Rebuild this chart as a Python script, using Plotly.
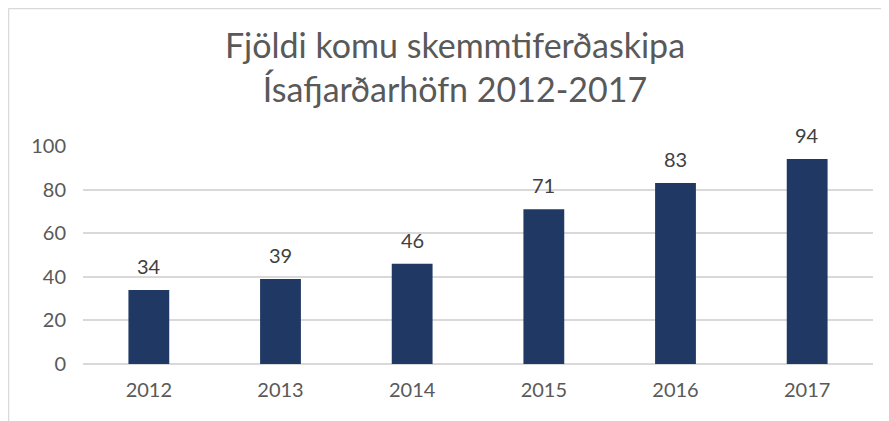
import plotly.graph_objects as go

years = ["2012", "2013", "2014", "2015", "2016", "2017"]
arrivals = [34, 39, 46, 71, 83, 94]
y_ticks = [0, 20, 40, 60, 80, 100]

W, H = 889, 421
L, R, T, B = 75, 24, 138, 65
pw, ph = W - L - R, H - T - B

def px_x(x):
    return (x - L) / pw

def px_y(y):
    return (H - B - y) / ph

fig = go.Figure(go.Bar(
    x=years, y=arrivals,
    marker=dict(color="#203864", line=dict(width=0)),
    width=0.31,
    hoverinfo="x+y",
))

# value labels: x given as category index on the category axis
for i, v in enumerate(arrivals):
    fig.add_annotation(
        x=i, y=v, xref="x", yref="y",
        text=str(v), showarrow=False,
        yanchor="bottom", yshift=10,
        font=dict(size=20, color="#404040", family="Lato"),
    )

fig.update_layout(
    width=W, height=H,
    margin=dict(l=L, r=R, t=T, b=B),
    paper_bgcolor="white", plot_bgcolor="white",
    font=dict(family="Lato", color="#595959"),
    title=dict(
        text="Fjöldi komu skemmtiferðaskipa<br>Ísafjarðarhöfn 2012-2017",
        x=447 / W, xanchor="center", xref="container",
        y=1 - 50 / H, yanchor="top",
        font=dict(size=34, color="#595959", family="Lato"),
    ),
    xaxis=dict(
        type="category", categoryorder="array", categoryarray=years,
        range=[-0.5, len(years) - 0.5],
        showgrid=False, showline=False, ticks="",
        tickfont=dict(size=20, color="#595959"),
        ticklabelstandoff=12,
    ),
    yaxis=dict(
        range=[0, 100], tickvals=y_ticks,
        showgrid=True, gridcolor="#d9d9d9", gridwidth=1.5,
        zeroline=True, zerolinecolor="#d9d9d9", zerolinewidth=1.5,
        showline=False, ticks="", ticklen=0,
        tickfont=dict(size=20, color="#595959"),
        ticklabelstandoff=16,
    ),
    showlegend=False,
    shapes=[
        dict(type="line", xref="paper", yref="paper",
             x0=px_x(0.5), x1=px_x(W + 5), y0=px_y(0.5), y1=px_y(0.5),
             line=dict(color="#d9d9d9", width=1.5)),
        dict(type="line", xref="paper", yref="paper",
             x0=px_x(0.5), x1=px_x(0.5), y0=px_y(0.5), y1=px_y(H + 5),
             line=dict(color="#d9d9d9", width=1.5)),
    ],
)

fig.write_html("out.html")
